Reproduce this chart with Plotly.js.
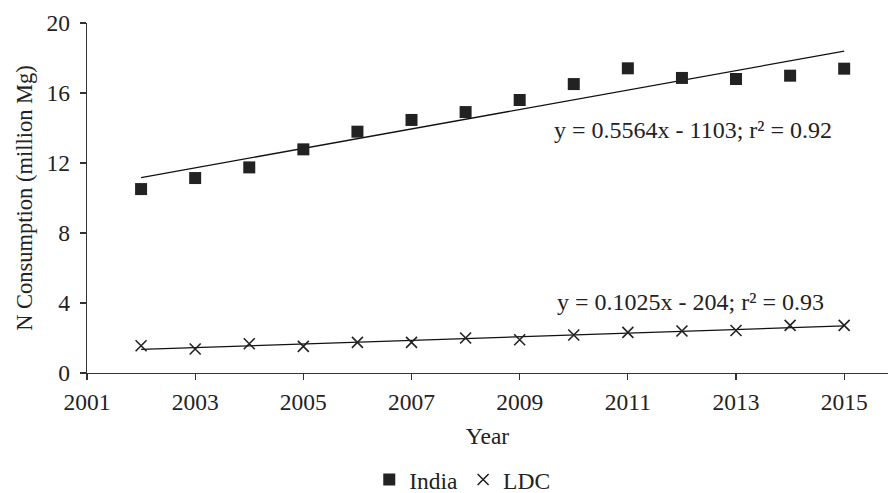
<!DOCTYPE html>
<html>
<head>
<meta charset="utf-8">
<script src="https://cdn.plot.ly/plotly-3.0.1.min.js"></script>
<style>html,body{margin:0;padding:0;background:#fff;}#chart{width:888px;height:493px;}</style>
</head>
<body>
<div id="chart"></div>
<script>
// Data
const years = [2002, 2003, 2004, 2005, 2006, 2007, 2008, 2009, 2010, 2011, 2012, 2013, 2014, 2015];
const india = [10.51, 11.14, 11.75, 12.78, 13.79, 14.46, 14.91, 15.60, 16.51, 17.41, 16.86, 16.80, 16.99, 17.39];
const ldc   = [1.56, 1.37, 1.67, 1.52, 1.75, 1.75, 2.00, 1.90, 2.17, 2.32, 2.40, 2.43, 2.72, 2.72];
const seriesNames = ["India", "LDC"];
const eqTexts = ["y = 0.5564x - 1103; r² = 0.92", "y = 0.1025x - 204; r² = 0.93"];
const yTicks = [0, 4, 8, 12, 16, 20];

// Least-squares linear trendline from the data (as the spreadsheet does)
function fit(xs, ys) {
  const n = xs.length;
  const mx = xs.reduce((a, b) => a + b, 0) / n;
  const my = ys.reduce((a, b) => a + b, 0) / n;
  let sxy = 0, sxx = 0;
  for (let i = 0; i < n; i++) { sxy += (xs[i] - mx) * (ys[i] - my); sxx += (xs[i] - mx) ** 2; }
  const b = sxy / sxx, a = my - b * mx;
  return xs.map(x => a + b * x);
}

const font = "Liberation Serif, Times New Roman, serif";
const ink = "#222222";

const traces = [
  {x: years, y: fit(years, india), mode: "lines", line: {color: "#111", width: 1.3}, showlegend: false, hoverinfo: "skip"},
  {x: years, y: fit(years, ldc), mode: "lines", line: {color: "#111", width: 1.3}, showlegend: false, hoverinfo: "skip"},
  {x: years, y: india, name: seriesNames[0], mode: "markers", type: "scatter",
   marker: {symbol: "square", size: 12, color: "#222222"}},
  {x: years, y: ldc, name: seriesNames[1], mode: "markers", type: "scatter",
   marker: {symbol: "x-thin-open", size: 11, color: "#222222", line: {width: 1.6, color: "#222222"}}}
];

const layout = {
  width: 888, height: 493,
  margin: {l: 87, r: 0, t: 23, b: 120, autoexpand: false},
  paper_bgcolor: "#fff", plot_bgcolor: "#fff",
  font: {family: font, size: 23.5, color: ink},
  xaxis: {
    range: [2001, 2015.81], tick0: 2001, dtick: 2, tickmode: "linear",
    showgrid: false, zeroline: false, showline: true, linecolor: "#333", linewidth: 1.3,
    ticks: "outside", ticklen: 6, tickcolor: "#333", tickwidth: 1.2,
    ticklabelstandoff: 1,
    tickfont: {family: font, size: 23.5, color: ink},
    title: {text: "Year", font: {family: font, size: 23.5, color: ink}, standoff: 14}
  },
  yaxis: {
    range: [0, 20], tickvals: yTicks, ticktext: yTicks.map(String),
    showgrid: false, zeroline: false, showline: true, linecolor: "#333", linewidth: 1.3,
    ticks: "outside", ticklen: 6, tickcolor: "#333", tickwidth: 1.2,
    ticklabelstandoff: 5,
    tickfont: {family: font, size: 23.5, color: ink},
    title: {text: "N Consumption (million Mg)", font: {family: font, size: 22.5, color: ink}, standoff: 7}
  },
  legend: {
    orientation: "h", x: 0.4685, xanchor: "center", y: -0.305, yanchor: "middle",
    font: {family: font, size: 23.5, color: ink}, itemwidth: 30, tracegroupgap: 0
  },
  annotations: [
    {x: 2012.2, y: 13.9, xref: "x", yref: "y", text: eqTexts[0], showarrow: false,
     font: {family: font, size: 24, color: ink}},
    {x: 2012.15, y: 4.07, xref: "x", yref: "y", text: eqTexts[1], showarrow: false,
     font: {family: font, size: 24, color: ink}}
  ],
  showlegend: true
};

Plotly.newPlot("chart", traces, layout, {displayModeBar: false, staticPlot: true});
</script>
</body>
</html>
